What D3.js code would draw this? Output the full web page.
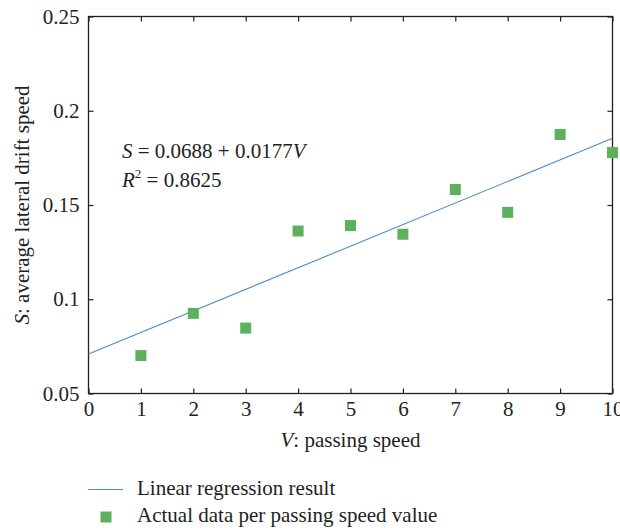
<!DOCTYPE html>
<html>
<head>
<meta charset="utf-8"/>
<script src="https://cdn.jsdelivr.net/npm/d3@7"></script>
<style>
  body { margin: 0; background: #fff; }
  text { font-family: "Liberation Serif", "DejaVu Serif", serif; fill: #231f20; }
</style>
</head>
<body>
<svg id="chart" width="620" height="531"></svg>
<script>
// data
var speeds = [1, 2, 3, 4, 5, 6, 7, 8, 9, 10];
var driftValues = [0.0701, 0.0925, 0.0847, 0.1362, 0.1391, 0.1345, 0.1582, 0.1461, 0.1874, 0.1778];
var fitX = [0, 10];
var fitY = [0.0709, 0.1854];
var xTicks = [0, 1, 2, 3, 4, 5, 6, 7, 8, 9, 10];
var yTicks = [0.05, 0.1, 0.15, 0.2, 0.25];
var yTickLabels = ["0.05", "0.1", "0.15", "0.2", "0.25"];

var svg = d3.select("#chart");
var pl = 88.5, pr = 612.5, pt = 16.5, pb = 393.5;
var fs = "21px";

var x = d3.scaleLinear().domain([0, 10]).range([pl, pr]);
var y = d3.scaleLinear().domain([0.05, 0.25]).range([pb, pt]);

var axisStyle = function(g) {
  g.select(".domain").remove();
  g.selectAll("line").attr("stroke", "#231f20").attr("stroke-width", 1.2);
  g.selectAll("text").attr("font-size", fs).attr("font-family", "Liberation Serif").attr("fill", "#231f20");
};

// bottom axis, ticks pointing in
svg.append("g").attr("transform", "translate(0," + pb + ")")
  .call(d3.axisBottom(x).tickValues(xTicks).tickSize(-5).tickPadding(8).tickFormat(d3.format("d")))
  .call(axisStyle);
// top mirror ticks
svg.append("g").attr("transform", "translate(0," + pt + ")")
  .call(d3.axisTop(x).tickValues(xTicks).tickSize(-5).tickFormat(""))
  .call(axisStyle);
// left axis
svg.append("g").attr("transform", "translate(" + pl + ",0)")
  .call(d3.axisLeft(y).tickValues(yTicks).tickSize(-5).tickPadding(9)
    .tickFormat(function(d, i) { return yTickLabels[i]; }))
  .call(axisStyle);
// right mirror ticks
svg.append("g").attr("transform", "translate(" + pr + ",0)")
  .call(d3.axisRight(y).tickValues(yTicks).tickSize(-5).tickFormat(""))
  .call(axisStyle);

// frame
svg.append("rect")
  .attr("x", pl).attr("y", pt)
  .attr("width", pr - pl).attr("height", pb - pt)
  .attr("fill", "none").attr("stroke", "#231f20").attr("stroke-width", 1.3);

// regression line
var line = d3.line().x(function(d) { return x(d[0]); }).y(function(d) { return y(d[1]); });
svg.append("path")
  .datum(fitX.map(function(v, i) { return [v, fitY[i]]; }))
  .attr("d", line)
  .attr("fill", "none").attr("stroke", "#4d8cc6").attr("stroke-width", 1.1);

// data points
var sq = 11;
svg.selectAll(".pt").data(speeds).enter().append("rect")
  .attr("class", "pt")
  .attr("x", function(d) { return x(d) - sq / 2; })
  .attr("y", function(d, i) { return y(driftValues[i]) - sq / 2; })
  .attr("width", sq).attr("height", sq)
  .attr("fill", "#5cb15c");

// equation
var eq = svg.append("text").attr("x", 122).attr("y", 158).attr("font-size", fs);
eq.append("tspan").attr("font-style", "italic").text("S");
eq.append("tspan").text(" = 0.0688 + 0.0177");
eq.append("tspan").attr("font-style", "italic").text("V");
var r2 = svg.append("text").attr("x", 122).attr("y", 187).attr("font-size", fs);
r2.append("tspan").attr("font-style", "italic").text("R");
r2.append("tspan").attr("font-size", "13px").attr("dy", -9).text("2");
r2.append("tspan").attr("dy", 9).text(" = 0.8625");

// axis titles
var xt = svg.append("text").attr("x", (pl + pr) / 2).attr("y", 447)
  .attr("text-anchor", "middle").attr("font-size", fs);
xt.append("tspan").attr("font-style", "italic").text("V");
xt.append("tspan").text(": passing speed");

var yt = svg.append("text").attr("transform", "translate(29," + (pt + pb) / 2 + ") rotate(-90)")
  .attr("text-anchor", "middle").attr("font-size", fs);
yt.append("tspan").attr("font-style", "italic").text("S");
yt.append("tspan").text(": average lateral drift speed");

// legend
svg.append("line").attr("x1", 88).attr("x2", 123).attr("y1", 489.5).attr("y2", 489.5)
  .attr("stroke", "#4d8cc6").attr("stroke-width", 1.1);
svg.append("text").attr("x", 137).attr("y", 495).attr("font-size", fs).text("Linear regression result");
svg.append("rect").attr("x", 106 - sq / 2).attr("y", 517 - sq / 2).attr("width", sq).attr("height", sq)
  .attr("fill", "#5cb15c");
svg.append("text").attr("x", 137).attr("y", 522).attr("font-size", fs).text("Actual data per passing speed value");
</script>
</body>
</html>
